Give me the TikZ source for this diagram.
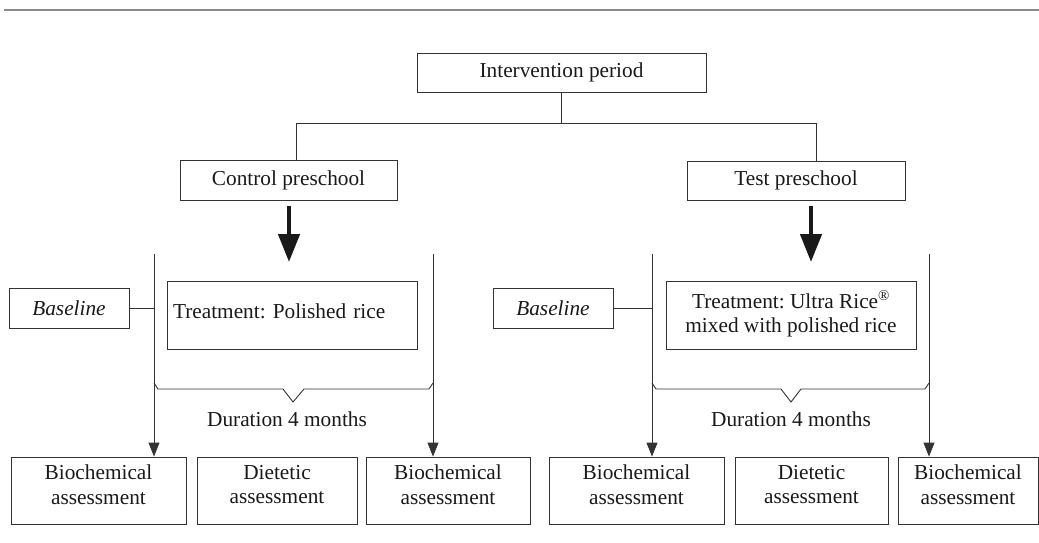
\documentclass[tikz,border=0pt]{standalone}
\usepackage{fontspec}
\setmainfont{Liberation Serif}
\usetikzlibrary{arrows.meta,calc}
\begin{document}
\frenchspacing
\begin{tikzpicture}[x=1pt,y=-1pt,
  box/.style={draw=black!80, line width=0.9pt, rectangle, inner sep=0pt, align=center,
    font=\fontsize{21.3}{24.5}\selectfont, text=black!90},
  lbl/.style={inner sep=0pt, font=\fontsize{21.3}{24.5}\selectfont, text=black!90},
  ln/.style={draw=black!80, line width=0.9pt},
  thinarrow/.style={ln, -{Triangle[length=14pt,width=11pt]}},
  thickarrow/.style={draw=black!90, line width=4.5pt, -{Triangle[length=28pt,width=21pt]}},
  twoline/.style={text depth=12pt},
]
\useasboundingbox (0,0) rectangle (1039,543);
\draw[draw=black!45, line width=2pt] (4,10.5) -- (1039,10.5);

% top level
\node[box, minimum width=289pt, minimum height=39pt] (top) at (561.5,72.5) {Intervention period};
\node[box, minimum width=217pt, minimum height=40pt] (ctrl) at (288.5,180) {Control preschool};
\node[box, minimum width=218pt, minimum height=39pt] (test) at (796,180.5) {Test preschool};

\coordinate (jl) at (296,123);
\coordinate (jr) at (816,123);
\draw[ln] (top.south) -- (top.south |- jl);
\draw[ln] (jl) -- (jr);
\draw[ln] (jl) -- (jl |- ctrl.north);
\draw[ln] (jr) -- (jr |- test.north);

% thick arrows
\coordinate (ta1) at (289,262);
\coordinate (ta2) at (811,262);
\draw[thickarrow] ($(ctrl.south -| ta1)+(0,6)$) -- (ta1);
\draw[thickarrow] ($(test.south -| ta2)+(0,6)$) -- (ta2);

% baseline and treatment boxes
\node[box, minimum width=120pt, minimum height=40pt, font=\fontsize{21.3}{24.5}\selectfont\itshape] (base1) at (69,308) {Baseline};
\node[box, minimum width=120pt, minimum height=40pt, font=\fontsize{21.3}{24.5}\selectfont\itshape] (base2) at (553,308) {Baseline};
\node[box, minimum width=250pt, minimum height=68pt, text width=238pt, align=left] (treat1) at (292,315) {\raisebox{8pt}{Treatment: Polished rice}};
\node[box, minimum width=250pt, minimum height=68pt, text depth=6pt] (treat2) at (791,315) {Treatment: Ultra Rice\textsuperscript{\textregistered}\\mixed with polished rice};

% bottom boxes
\node[box, twoline, minimum width=175pt, minimum height=67pt] (b1) at (98.5,490.5) {Biochemical\\assessment};
\node[box, twoline, minimum width=160pt, minimum height=67pt] (b2) at (277,490.5) {Dietetic\\assessment};
\node[box, twoline, minimum width=164pt, minimum height=67pt] (b3) at (448,490.5) {Biochemical\\assessment};
\node[box, twoline, minimum width=175pt, minimum height=67pt] (b4) at (636.5,490.5) {Biochemical\\assessment};
\node[box, twoline, minimum width=153pt, minimum height=67pt] (b5) at (811.5,490.5) {Dietetic\\assessment};
\node[box, twoline, minimum width=140pt, minimum height=67pt] (b6) at (968,490.5) {Biochemical\\assessment};

% timeline verticals
\coordinate (v1) at (154,254);
\coordinate (v2) at (433,254);
\coordinate (v3) at (652,254);
\coordinate (v4) at (929,254);
\draw[thinarrow] (v1) -- (v1 |- b1.north);
\draw[thinarrow] (v2) -- (v2 |- b3.north);
\draw[thinarrow] (v3) -- (v3 |- b4.north);
\draw[thinarrow] (v4) -- (v4 |- b6.north);
\draw[ln] (base1.east) -- (base1.east -| v1);
\draw[ln] (base2.east) -- (base2.east -| v3);

% braces
\draw[ln] (154,383) -- (158,389) -- (283,389) -- (293,402) -- (304,389) -- (429,389) -- (433,383);
\draw[ln] (652,383) -- (656,389) -- (781,389) -- (791,402) -- (801,389) -- (925,389) -- (929,383);
\node[lbl] (dur1) at (287,419) {Duration 4 months};
\node[lbl] (dur2) at (791,419) {Duration 4 months};
\end{tikzpicture}
\end{document}
